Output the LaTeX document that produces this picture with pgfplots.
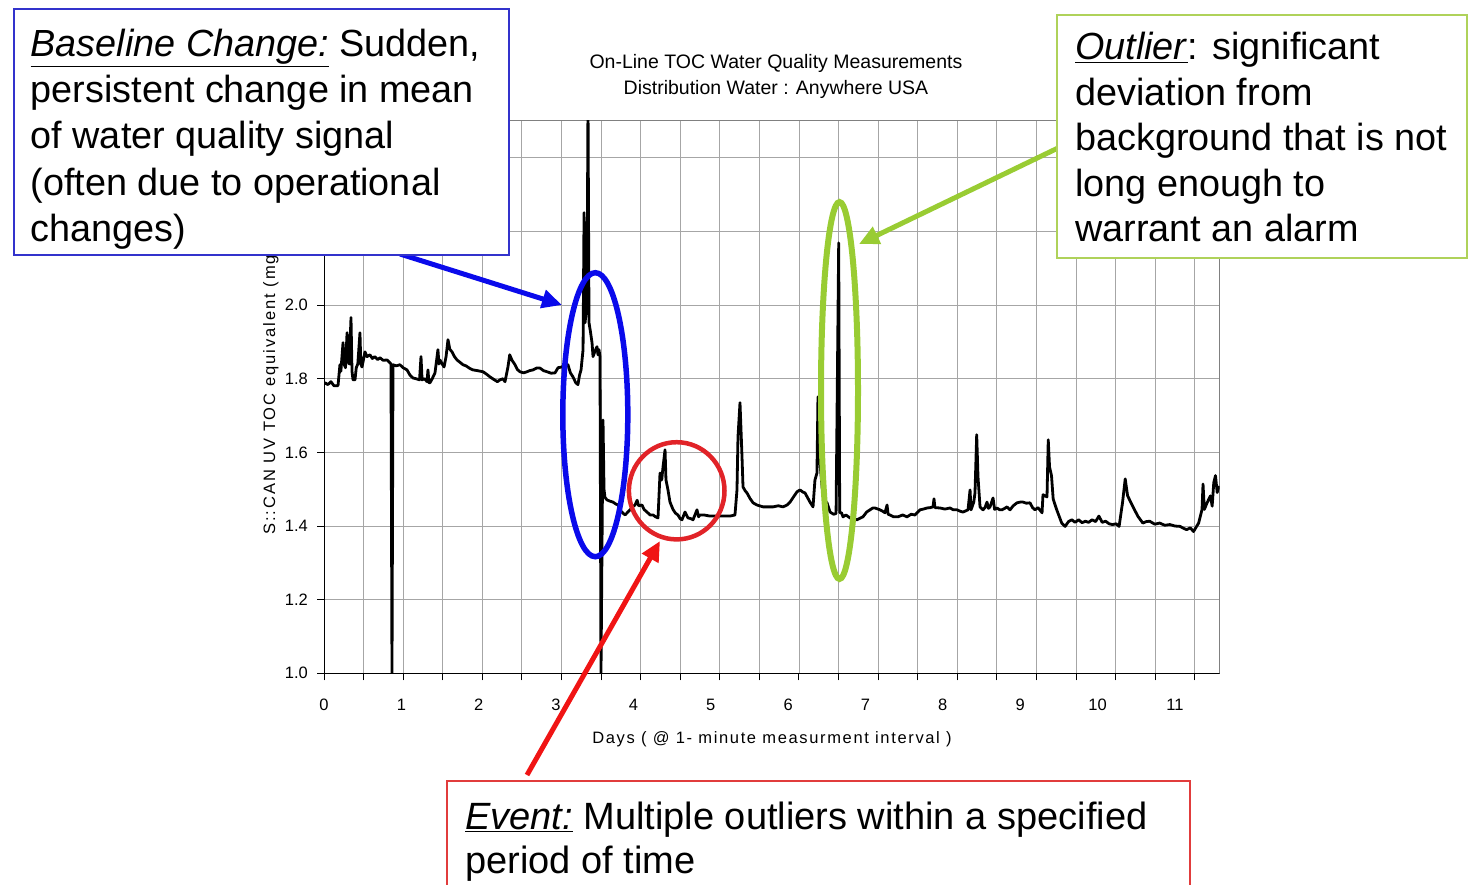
\documentclass[border=0pt]{standalone}
\usepackage{pgfplots}
\pgfplotsset{compat=1.18}
\usepackage{pgfplotstable}
\usetikzlibrary{arrows.meta}
\usepackage{fontspec}
\setmainfont{Liberation Sans}
\newfontfamily\xlabfont[LetterSpace=10]{Liberation Sans}
\newfontfamily\ylabfont[LetterSpace=12]{Liberation Sans}
\definecolor{boxblue}{RGB}{51,51,204}
\definecolor{arrblue}{RGB}{10,10,235}
\definecolor{ygreen}{RGB}{153,204,51}
\definecolor{boxgreen}{RGB}{175,210,90}
\definecolor{myred}{RGB}{240,20,20}
\definecolor{circred}{RGB}{225,35,40}
\definecolor{boxred}{RGB}{225,60,60}

\pgfplotstableread{
x y
0.000 1.785
0.013 1.789
0.050 1.784
0.089 1.792
0.129 1.781
0.181 1.781
0.206 1.838
0.218 1.820
0.246 1.898
0.258 1.840
0.278 1.830
0.298 1.925
0.308 1.850
0.327 1.840
0.349 1.966
0.362 1.820
0.375 1.797
0.401 1.797
0.417 1.830
0.437 1.840
0.465 1.925
0.476 1.840
0.491 1.832
0.530 1.873
0.556 1.860
0.594 1.865
0.625 1.855
0.655 1.860
0.695 1.852
0.724 1.857
0.764 1.850
0.815 1.851
0.853 1.843
0.866 1.840
0.879 1.000
0.892 1.838
0.933 1.835
0.982 1.838
1.022 1.830
1.073 1.824
1.111 1.810
1.151 1.802
1.191 1.800
1.235 1.797
1.254 1.860
1.268 1.797
1.300 1.800
1.332 1.792
1.344 1.824
1.357 1.789
1.370 1.789
1.399 1.800
1.435 1.816
1.473 1.879
1.486 1.840
1.499 1.851
1.528 1.840
1.552 1.832
1.578 1.860
1.603 1.906
1.627 1.880
1.655 1.873
1.687 1.860
1.720 1.851
1.756 1.845
1.797 1.838
1.836 1.835
1.885 1.828
1.926 1.824
1.984 1.822
2.056 1.819
2.104 1.812
2.146 1.805
2.203 1.797
2.242 1.792
2.275 1.797
2.312 1.800
2.340 1.792
2.378 1.832
2.401 1.865
2.431 1.850
2.470 1.838
2.500 1.825
2.534 1.819
2.580 1.816
2.624 1.819
2.659 1.822
2.702 1.824
2.748 1.829
2.792 1.829
2.838 1.822
2.883 1.819
2.937 1.815
2.987 1.816
3.026 1.830
3.077 1.832
3.116 1.840
3.154 1.838
3.185 1.816
3.219 1.805
3.255 1.789
3.283 1.784
3.304 1.810
3.323 1.824
3.349 1.879
3.362 2.251
3.375 1.952
3.388 1.980
3.400 2.015
3.413 2.550
3.426 1.952
3.443 1.930
3.465 1.898
3.478 1.860
3.503 1.875
3.529 1.887
3.542 1.865
3.555 1.879
3.568 1.860
3.581 1.000
3.607 1.688
3.620 1.500
3.632 1.478
3.658 1.471
3.691 1.468
3.736 1.465
3.771 1.460
3.801 1.457
3.840 1.440
3.892 1.430
3.929 1.438
3.956 1.444
3.989 1.452
4.021 1.457
4.048 1.470
4.068 1.455
4.111 1.457
4.138 1.445
4.175 1.438
4.217 1.430
4.254 1.430
4.286 1.425
4.318 1.422
4.344 1.544
4.366 1.525
4.383 1.561
4.409 1.607
4.421 1.525
4.447 1.498
4.473 1.465
4.512 1.445
4.544 1.435
4.576 1.430
4.604 1.420
4.628 1.417
4.667 1.438
4.706 1.422
4.743 1.420
4.771 1.417
4.822 1.444
4.842 1.425
4.861 1.430
4.912 1.430
4.990 1.427
5.060 1.427
5.120 1.427
5.189 1.427
5.249 1.427
5.313 1.430
5.339 1.498
5.352 1.642
5.378 1.735
5.404 1.588
5.417 1.506
5.447 1.495
5.468 1.490
5.507 1.475
5.547 1.463
5.598 1.457
5.676 1.452
5.735 1.452
5.805 1.452
5.874 1.455
5.934 1.452
5.986 1.457
6.025 1.465
6.073 1.480
6.115 1.493
6.154 1.498
6.192 1.492
6.218 1.490
6.283 1.465
6.322 1.452
6.347 1.525
6.373 1.544
6.386 1.751
6.400 1.600
6.439 1.506
6.469 1.470
6.503 1.463
6.542 1.438
6.588 1.432
6.620 1.434
6.654 2.169
6.667 1.436
6.690 1.436
6.710 1.425
6.747 1.430
6.800 1.422
6.846 1.420
6.891 1.417
6.968 1.425
7.015 1.438
7.059 1.444
7.095 1.449
7.123 1.449
7.188 1.444
7.223 1.440
7.252 1.436
7.279 1.457
7.293 1.432
7.318 1.430
7.362 1.425
7.421 1.425
7.481 1.430
7.537 1.425
7.591 1.432
7.640 1.430
7.705 1.444
7.749 1.446
7.796 1.449
7.839 1.450
7.873 1.452
7.886 1.474
7.898 1.450
7.964 1.449
8.027 1.446
8.093 1.449
8.136 1.444
8.184 1.444
8.226 1.440
8.261 1.438
8.295 1.441
8.326 1.444
8.352 1.498
8.365 1.444
8.400 1.465
8.416 1.490
8.438 1.648
8.455 1.533
8.481 1.452
8.520 1.444
8.545 1.450
8.571 1.465
8.590 1.448
8.610 1.452
8.649 1.476
8.670 1.445
8.701 1.449
8.735 1.444
8.765 1.444
8.800 1.448
8.830 1.452
8.869 1.444
8.910 1.455
8.959 1.463
9.000 1.465
9.037 1.465
9.080 1.462
9.127 1.463
9.160 1.450
9.192 1.444
9.230 1.450
9.283 1.436
9.295 1.485
9.347 1.479
9.363 1.634
9.380 1.560
9.405 1.537
9.427 1.473
9.471 1.445
9.537 1.408
9.581 1.399
9.625 1.412
9.668 1.417
9.710 1.410
9.756 1.417
9.800 1.409
9.842 1.413
9.885 1.410
9.930 1.417
9.975 1.412
10.018 1.427
10.060 1.410
10.105 1.413
10.150 1.406
10.193 1.404
10.240 1.406
10.279 1.399
10.323 1.463
10.358 1.528
10.389 1.482
10.455 1.454
10.520 1.427
10.586 1.408
10.630 1.412
10.674 1.413
10.740 1.405
10.804 1.408
10.870 1.402
10.935 1.404
11.000 1.400
11.067 1.399
11.110 1.394
11.153 1.390
11.200 1.395
11.241 1.385
11.307 1.408
11.351 1.445
11.364 1.514
11.381 1.445
11.416 1.463
11.460 1.482
11.482 1.454
11.503 1.518
11.525 1.537
11.547 1.491
11.569 1.509
}\toc

\begin{document}
\begin{tikzpicture}
\path[use as bounding box] (0pt,0pt) rectangle (1468pt,-885pt);
\begin{axis}[
  at={(324pt,-673.3pt)}, anchor=south west,
  scale only axis, width=895.5pt, height=552.3pt,
  xmin=0, xmax=11.577, ymin=1.0, ymax=2.5,
  xtick={0,0.5117,1.0234,1.5351,2.0468,2.5585,3.0702,3.5819,4.0936,4.6053,5.117,5.6287,6.1404,6.6521,7.1638,7.6755,8.1872,8.6989,9.2106,9.7223,10.234,10.7457,11.2574},
  xticklabels={},
  extra x ticks={0,1,2,3,4,5,6,7,8,9,10,11},
  extra x tick labels={0,1,2,3,4,5,6,7,8,9,10,11},
  extra x tick style={grid=none, major tick length=0pt, tick style={draw=none}},
  ytick={1.0,1.2,1.4,1.6,1.8,2.0,2.2,2.4},
  yticklabels={1.0,1.2,1.4,1.6,1.8,2.0,{},{}},
  grid=major,
  major grid style={black!35, line width=0.9pt},
  axis line style={black!50, line width=1pt},
  tick style={black, line width=1pt},
  tick align=outside, major tick length=7pt, tick pos=left,
  /pgf/number format/assume math mode=true,
  tick label style={font=\fontsize{16.5}{19}\selectfont, inner sep=0pt},
  x tick label style={anchor=north, yshift=-25.7pt},
  yticklabel style={anchor=east, xshift=-9pt},
  title={On-Line TOC Water Quality Measurements\\Distribution Water : Anywhere USA},
  title style={at={(axis description cs:0.5047,1)}, anchor=south, align=center, inner sep=0pt, yshift=15.9pt, font=\fontsize{19.5}{26}\selectfont},
  xlabel={Days ( @ 1- minute measurment interval )},
  xlabel style={at={(axis description cs:0.5003,0)}, anchor=base, yshift=-69.7pt, inner sep=0pt, font=\xlabfont\fontsize{16.5}{19}\selectfont},
  ylabel={S::CAN UV TOC equivalent (mg/L)},
  ylabel style={at={(axis description cs:-0.0547,0.2504)}, anchor=base west, inner sep=0pt, font=\ylabfont\fontsize{16.5}{19}\selectfont},
]
\addplot[black, line width=2.8pt, line join=round, mark=none] table[x=x, y=y] {\toc};
\draw[black, line width=1.5pt] (rel axis cs:0,1) -- (rel axis cs:0,0) -- (rel axis cs:1,0);
\end{axis}

\begin{scope}[x=1pt, y=-1pt]
  % highlight ellipses
  \draw[arrblue, line width=5.5pt] (595.3,414.7) ellipse [x radius=32.5, y radius=142];
  \draw[circred, line width=4.5pt] (676.7,490.8) ellipse [x radius=47.8, y radius=48.6];
  \draw[ygreen, line width=6pt] (839.5,390.5) ellipse [x radius=18.5, y radius=188.5];
  % arrows
  \draw[arrblue, line width=5pt, -{Triangle[length=20pt,width=18pt]}] (400,254) -- (562,305);
  \draw[ygreen, line width=5pt, -{Triangle[length=20pt,width=18pt]}] (1058,148) -- (859,244);
  \draw[myred, line width=5pt, -{Triangle[length=20pt,width=18pt]}] (527,775) -- (660,541);
  % baseline change box
  \draw[boxblue, line width=2pt, fill=white] (14,9.5) rectangle (508.5,255);
  \begin{scope}[every node/.style={anchor=base west, inner sep=0pt, font=\fontsize{37.8}{46}\selectfont}]
    \node at (30.5,56.5) {\underline{\textit{Baseline Change:}} Sudden,};
    \node at (30.5,102.7) {persistent change in mean};
    \node at (30.5,148.9) {of water quality signal};
    \node at (30.5,195.1) {(often due to operational};
    \node at (30.5,241.3) {changes)};
  \end{scope}
  % outlier box
  \draw[boxgreen, line width=2pt, fill=white] (1057,15) rectangle (1466.5,258.3);
  \begin{scope}[every node/.style={anchor=base west, inner sep=0pt, font=\fontsize{37.8}{46}\selectfont}]
    \node at (1075,60) {\underline{\textit{Outlier}}: significant};
    \node at (1075,105.4) {deviation from};
    \node at (1075,150.8) {background that is not};
    \node at (1075,196.2) {long enough to};
    \node at (1075,241.6) {warrant an alarm};
  \end{scope}
  % event box
  \fill[white] (447,781) rectangle (1190,885);
  \draw[boxred, line width=2pt] (447,885) -- (447,781) -- (1190,781) -- (1190,885);
  \begin{scope}[every node/.style={anchor=base west, inner sep=0pt, font=\fontsize{38}{46}\selectfont}]
    \node at (465,829) {\underline{\textit{Event:}} Multiple outliers within a specified};
    \node at (465,873) {period of time};
  \end{scope}
\end{scope}
\end{tikzpicture}
\end{document}
